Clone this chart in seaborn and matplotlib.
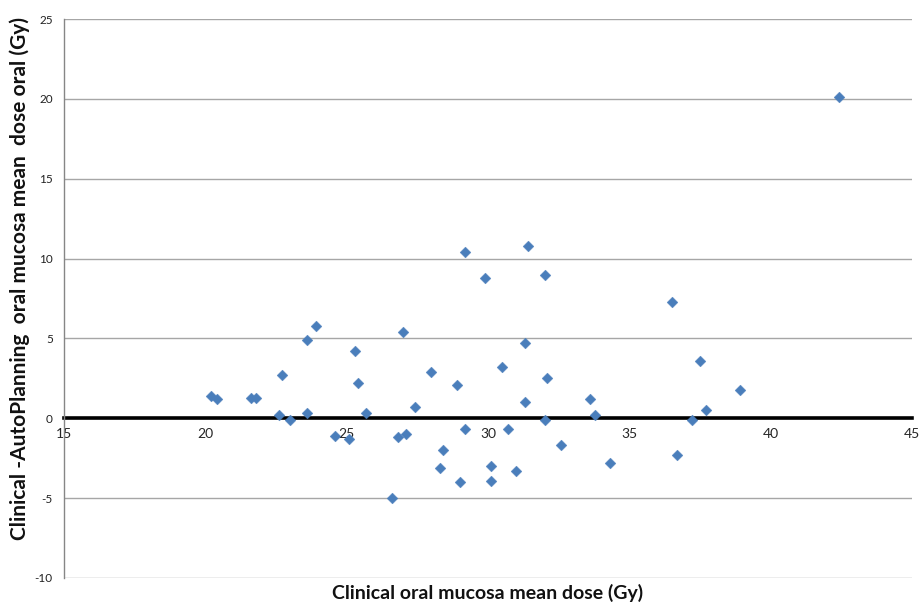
import matplotlib
matplotlib.use("Agg")
import matplotlib.pyplot as plt
import seaborn as sns
import pandas as pd

clinical_dose = [20.2, 20.4, 21.6, 21.8, 22.7, 22.6, 23.0, 23.6, 23.6, 23.9,
                 24.6, 25.1, 25.3, 25.4, 25.7, 26.6, 26.8, 27.0, 27.1, 27.4,
                 28.0, 28.3, 28.4, 28.9, 29.0, 29.2, 29.2, 29.9, 30.1, 30.1,
                 30.5, 30.7, 31.0, 31.3, 31.3, 31.4, 32.0, 32.0, 32.1, 32.6,
                 33.6, 33.8, 34.3, 36.5, 36.7, 37.2, 37.5, 37.7, 38.9, 42.4]
dose_difference = [1.4, 1.2, 1.3, 1.3, 2.7, 0.2, -0.1, 4.9, 0.3, 5.8,
                   -1.1, -1.3, 4.2, 2.2, 0.3, -5.0, -1.2, 5.4, -1.0, 0.7,
                   2.9, -3.1, -2.0, 2.1, -4.0, 10.4, -0.7, 8.8, -3.0, -3.9,
                   3.2, -0.7, -3.3, 4.7, 1.0, 10.8, 9.0, -0.1, 2.5, -1.7,
                   1.2, 0.2, -2.8, 7.3, -2.3, -0.1, 3.6, 0.5, 1.8, 20.1]
x_ticks = [15, 20, 25, 30, 35, 40, 45]
y_ticks = [-10, -5, 0, 5, 10, 15, 20, 25]
x_label = "Clinical oral mucosa mean dose (Gy)"
y_label = "Clinical -AutoPlanning  oral mucosa mean  dose oral (Gy)"

df = pd.DataFrame({"x": clinical_dose, "y": dose_difference})

sns.set_style("white")
plt.rcParams["font.family"] = ["Lato", "DejaVu Sans"]

fig = plt.figure(figsize=(9.19, 6.03), dpi=100)
ax = fig.add_axes([64 / 919, 1 - 578 / 603, (912 - 64) / 919, (578 - 19) / 603])

sns.scatterplot(data=df, x="x", y="y", ax=ax, marker="D", s=30,
                color="#4a7ebb", edgecolor="#4a7ebb", linewidth=0.3, zorder=3)

ax.set_xlim(x_ticks[0], x_ticks[-1])
ax.set_ylim(y_ticks[0], y_ticks[-1])
ax.set_xticks(x_ticks)
ax.set_yticks(y_ticks)
ax.set_xticklabels([str(t) for t in x_ticks], fontsize=8.5, color="#222222")
ax.set_yticklabels([str(t) for t in y_ticks], fontsize=8.5, color="#222222")

ax.yaxis.grid(True, color="#a6a6a6", linewidth=1)
ax.xaxis.grid(False)
ax.set_axisbelow(True)

ax.spines["bottom"].set_position(("data", 0))
ax.spines["bottom"].set_color("black")
ax.spines["bottom"].set_linewidth(2.6)
ax.spines["bottom"].set_zorder(2)
ax.spines["left"].set_color("#868686")
ax.spines["left"].set_linewidth(1)
ax.spines["top"].set_visible(False)
ax.spines["right"].set_visible(False)

ax.tick_params(axis="x", length=0, pad=7)
ax.tick_params(axis="y", length=0, pad=8)

ax.set_xlabel("")
ax.set_ylabel("")
fig.text(488 / 919, 1 - 593 / 603, x_label, ha="center", va="center",
         fontsize=14, fontweight="bold", color="#111111")
fig.text(20 / 919, 1 - 279 / 603, y_label, ha="center", va="center", rotation=90,
         fontsize=15, fontweight="bold", color="#111111")

fig.savefig("out.png", dpi=100)
